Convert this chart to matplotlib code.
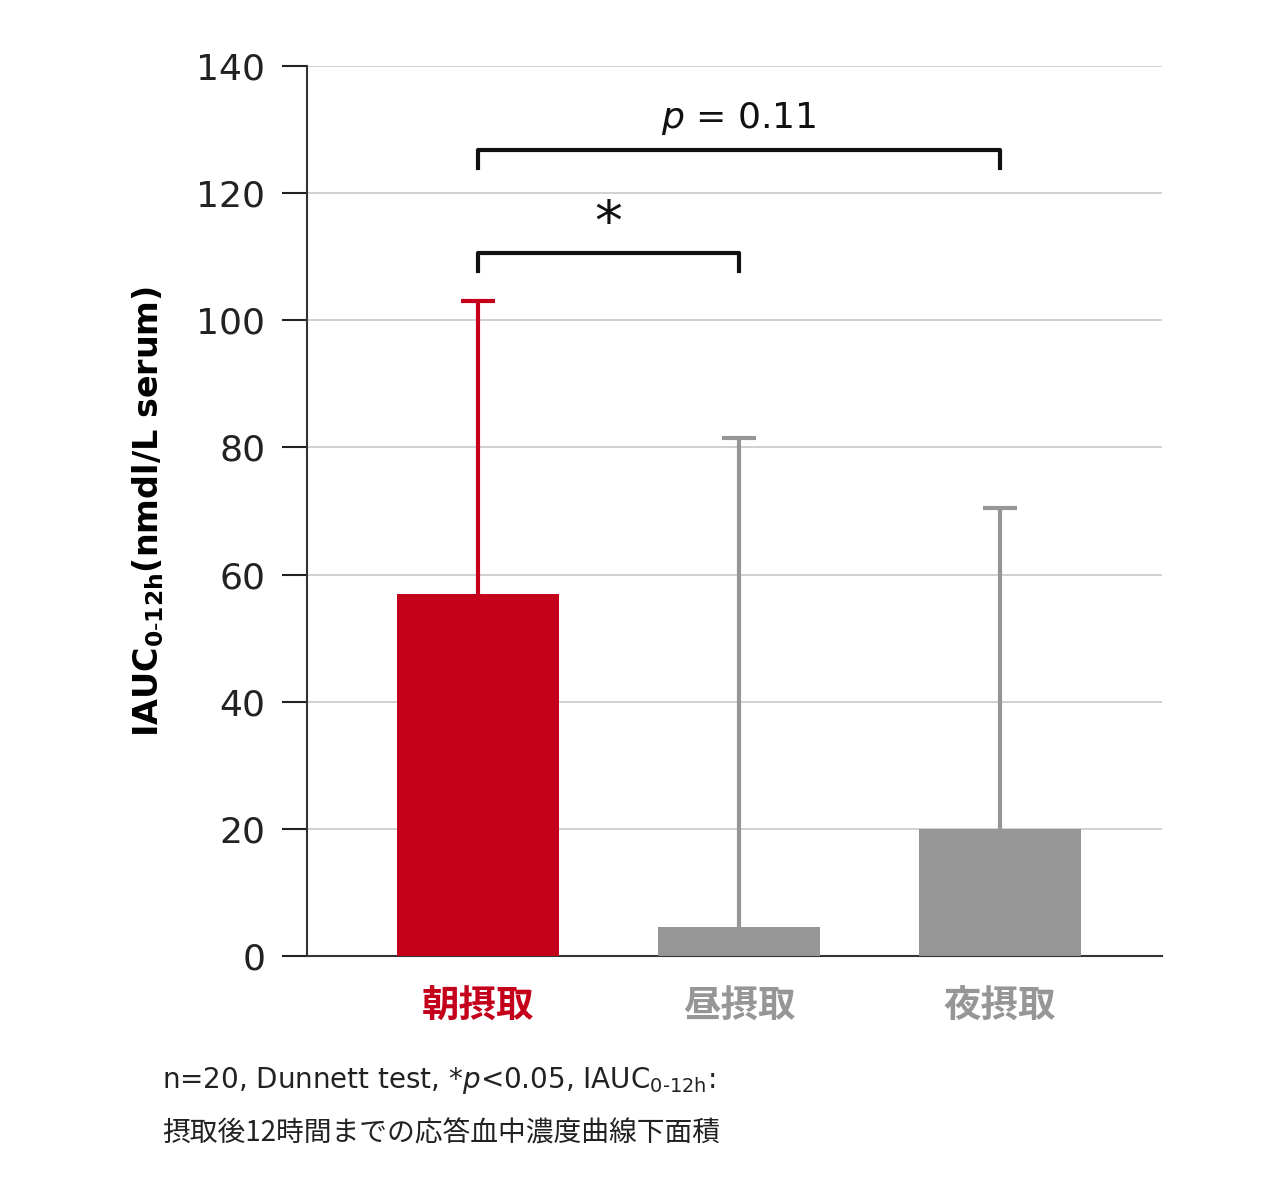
import matplotlib.pyplot as plt

plt.rcParams['font.family'] = ['DejaVu Sans', 'Noto Sans CJK JP']
plt.rcParams['mathtext.fontset'] = 'custom'
plt.rcParams['mathtext.rm'] = 'DejaVu Sans'
plt.rcParams['mathtext.it'] = 'DejaVu Sans:italic'
plt.rcParams['mathtext.bf'] = 'DejaVu Sans:bold'

categories = ['朝摂取', '昼摂取', '夜摂取']
means = [57, 4.5, 20]
sd_upper = [46, 77, 50.5]
bar_colors = ['#c4001a', '#969696', '#969696']
label_colors = ['#c4001a', '#969696', '#969696']
yticks = [0, 20, 40, 60, 80, 100, 120, 140]

fig = plt.figure(figsize=(12.79, 11.97), dpi=100)
ax = fig.add_axes([0.24, 0.2013, 0.6685, 0.7436])

x = list(range(len(categories)))
ax.bar(x, means, width=0.62, color=bar_colors, zorder=3)
# upper-only error bars
for i in x:
    top = means[i] + sd_upper[i]
    ax.vlines(i, means[i], top, color=bar_colors[i], linewidth=3, zorder=2)
    ax.hlines(top, i - 0.065, i + 0.065, color=bar_colors[i], linewidth=3, zorder=2)

ax.set_xlim(-0.655, 2.62)
ax.set_ylim(0, 140)
ax.set_yticks(yticks)
ax.yaxis.grid(True, color='#c8c8c8', linewidth=1.2, zorder=0)
ax.set_axisbelow(True)
for s in ['top', 'right']:
    ax.spines[s].set_visible(False)
for s in ['left', 'bottom']:
    ax.spines[s].set_linewidth(1.5)
    ax.spines[s].set_color('#333')
ax.tick_params(axis='y', length=18, width=1.5, labelsize=26, pad=12, colors='#222')
ax.set_xticks(x)
ax.set_xticklabels(categories, fontsize=27, fontweight='bold', family=['Noto Sans CJK JP'])
ax.tick_params(axis='x', length=0, pad=22)
for lab, c in zip(ax.get_xticklabels(), label_colors):
    lab.set_color(c)
ax.set_ylabel(r'IAUC$_{\mathbf{0\text{-}12h}}$(nmdl/L serum)', fontsize=24, fontweight='bold', labelpad=22)

def bracket(x1, x2, y, h, text, ty, size):
    ax.plot([x1, x1, x2, x2], [y - h, y, y, y - h], color='#111', linewidth=3, clip_on=False)
    ax.text((x1 + x2) / 2, ty, text, ha='center', va='center', fontsize=size, color='#111')

bracket(0, 1, 110.6, 2.8, '*', 115, 40)
bracket(0, 2, 126.8, 2.8, r'$p$ = 0.11', 131.8, 26)

fig.text(0.127, 0.097, r'n=20, Dunnett test, *$p$<0.05, IAUC$_{\mathrm{0\text{-}12h}}$:', fontsize=20, color='#222',
         family=['DejaVu Sans', 'Noto Sans CJK JP'], va='center')
fig.text(0.127, 0.053, '摂取後12時間までの応答血中濃度曲線下面積', fontsize=20, color='#222',
         family=['Noto Sans CJK JP'], va='center')

fig.savefig('out.png', dpi=100)
